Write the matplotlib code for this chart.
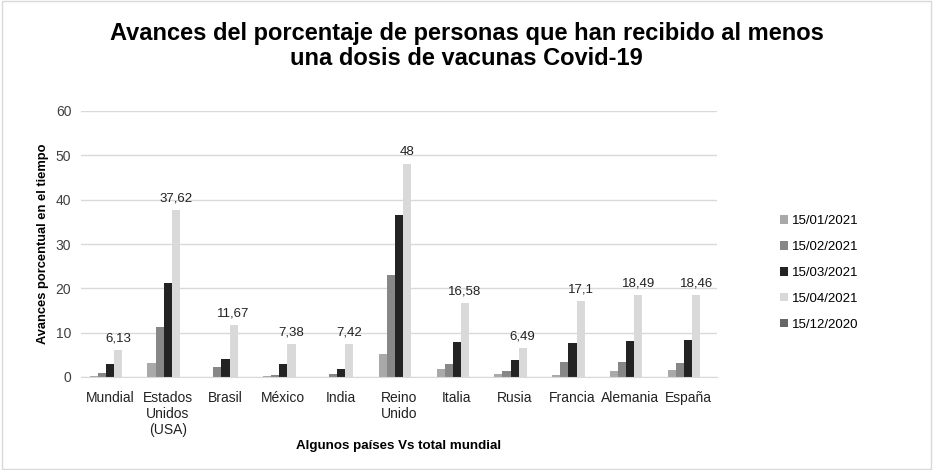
import numpy as np
import matplotlib.pyplot as plt
from matplotlib.patches import Rectangle

plt.rcParams['font.family'] = ['Liberation Sans', 'DejaVu Sans']

paises = ['Mundial', 'Estados\nUnidos\n(USA)', 'Brasil', 'México', 'India', 'Reino\nUnido',
          'Italia', 'Rusia', 'Francia', 'Alemania', 'España']
fechas = ['15/01/2021', '15/02/2021', '15/03/2021', '15/04/2021', '15/12/2020']

ene = [0.3, 3.1, 0.0, 0.3, 0.0, 5.1, 1.8, 0.6, 0.45, 1.3, 1.6]
feb = [1.0, 11.3, 2.3, 0.45, 0.6, 22.9, 2.9, 1.45, 3.3, 3.4, 3.2]
mar = [2.85, 21.1, 4.1, 2.85, 1.9, 36.5, 8.0, 3.75, 7.7, 8.1, 8.3]
abr = [6.13, 37.62, 11.67, 7.38, 7.42, 48, 16.58, 6.49, 17.1, 18.49, 18.46]
dic = [0, 0, 0, 0, 0, 0, 0, 0, 0, 0, 0]
series = [ene, feb, mar, abr, dic]
colores = ['#a9a9a9', '#878787', '#232323', '#d9d9d9', '#666666']

fig = plt.figure(figsize=(9.33, 4.7), dpi=100)
ax = fig.add_axes([81/933, 1 - 377/470, (717-81)/933, (377-111)/470])

x = np.arange(len(paises))
w = 0.14
for i, (s, c) in enumerate(zip(series, colores)):
    ax.bar(x + (i - 2) * w, s, w, color=c, label=fechas[i], zorder=3)

# etiquetas solo para 15/04/2021
for xi, v in zip(x, abr):
    txt = ('%g' % v).replace('.', ',')
    ax.text(xi + w, v + 1.3, txt, ha='center', va='bottom', fontsize=9.5, color='#222222')

ax.set_ylim(0, 60)
ax.set_xlim(-0.5, len(paises) - 0.5)
ax.set_yticks(range(0, 61, 10))
ax.yaxis.grid(True, color='#d9d9d9', lw=1, zorder=0)
ax.set_xticks(x)
ax.set_xticklabels(paises, fontsize=10, color='#222222', linespacing=1.2)
ax.tick_params(axis='y', labelsize=10, colors='#404040', length=0, pad=7)
ax.tick_params(axis='x', length=0, pad=10)
for sp in ['top', 'right', 'left']:
    ax.spines[sp].set_visible(False)
ax.spines['bottom'].set_color('#d9d9d9')
ax.spines['bottom'].set_zorder(4)

ax.set_ylabel('Avances porcentual en el tiempo', fontsize=9.3, fontweight='bold', labelpad=5)
ax.set_xlabel('Algunos países Vs total mundial', fontsize=9.6, fontweight='bold', labelpad=2)

fig.text(0.5, 1 - 46/470, 'Avances del porcentaje de personas que han recibido al menos\nuna dosis de vacunas Covid-19',
         ha='center', va='center', fontsize=17, fontweight='bold', linespacing=1.1)

ax.legend(loc='center left', bbox_to_anchor=(768/933, 1 - 273/470), bbox_transform=fig.transFigure,
          frameon=False, fontsize=9.5, handlelength=0.6, handleheight=0.6, handletextpad=0.3,
          labelspacing=1.05)

fig.patches.append(Rectangle((0.002, 0.003), 0.996, 0.994, transform=fig.transFigure,
                             fill=False, edgecolor='#d9d9d9', lw=1))

fig.savefig('out.png', dpi=100)
